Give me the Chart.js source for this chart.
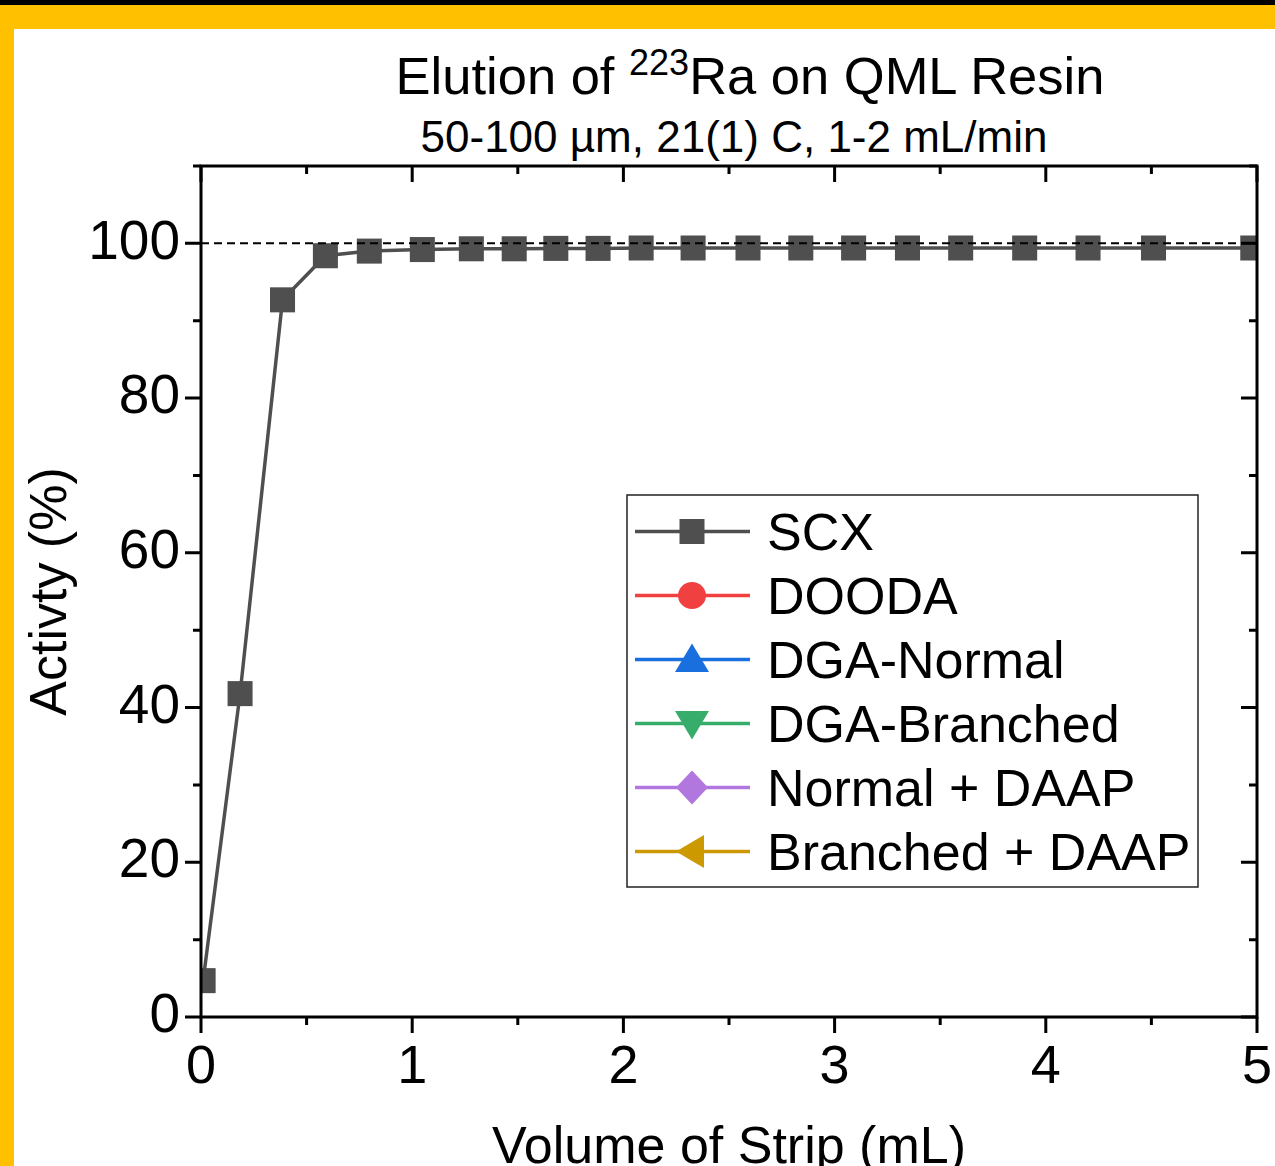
<!DOCTYPE html>
<html>
<head>
<meta charset="utf-8">
<script src="https://cdn.jsdelivr.net/npm/chart.js@4.4.1/dist/chart.umd.min.js"></script>
<style>
  html, body { margin: 0; padding: 0; overflow: hidden; background: #FFC000; width: 1275px; height: 1166px; }
  .topbar { position: absolute; left: 0; top: 0; width: 1275px; height: 5px; background: #000; }
  .sheet { position: absolute; left: 14px; top: 29px; right: 0; bottom: 0; background: #fff; }
  #c { position: absolute; left: 0; top: 0; }
  .ttl { position: absolute; width: 900px; text-align: center; font-family: "Liberation Sans", Arial, sans-serif; color: #000; line-height: 1; white-space: nowrap; }
  .ttl sup { font-size: 36px; position: relative; top: -19px; vertical-align: baseline; }
</style>
</head>
<body>
<div class="topbar"></div>
<div class="sheet"></div>
<div class="ttl" style="left: 300px; top: 50px; font-size: 52.5px;">Elution of <sup>223</sup>Ra on QML Resin</div>
<div class="ttl" style="left: 284px; top: 115px; font-size: 44px;">50-100 &micro;m, 21(1) C, 1-2 mL/min</div>
<canvas id="c" width="1320" height="1220"></canvas>
<script>
// ---- data ----
var scxX = [0.01, 0.185, 0.386, 0.589, 0.797, 1.048, 1.28, 1.483, 1.68, 1.88, 2.084,
            2.33, 2.59, 2.84, 3.09, 3.345, 3.597, 3.9, 4.2, 4.51, 4.98];
var scxY = [4.7, 41.8, 92.7, 98.4, 99.0, 99.2, 99.3, 99.3, 99.35, 99.35, 99.4,
            99.4, 99.4, 99.4, 99.4, 99.4, 99.4, 99.4, 99.4, 99.4, 99.4];
// no points visible for these in the figure
var doodaY = [];
var dgaNormalY = [];
var dgaBranchedY = [];
var normalDaapY = [];
var branchedDaapY = [];

var refX = [0, 5];
var refY = [100, 100];

var seriesNames = ['SCX', 'DOODA', 'DGA-Normal', 'DGA-Branched', 'Normal + DAAP', 'Branched + DAAP'];
var seriesColors = ['#4F4F4F', '#F14040', '#1A6FDF', '#37AD6B', '#B177DE', '#CC9900'];
var seriesMarkers = ['square', 'circle', 'triUp', 'triDown', 'diamond', 'triLeft'];

var xTicks = [0, 1, 2, 3, 4, 5];
var yTicks = [0, 20, 40, 60, 80, 100];

var FONT = '"Liberation Sans", Arial, sans-serif';
Chart.defaults.font.family = FONT;
Chart.defaults.color = '#000';

function pts(xs, ys) {
  return ys.map(function (y, i) { return { x: xs[i], y: y }; });
}

// draw one marker shape (used by the legend)
function drawMarker(ctx, kind, x, y, color) {
  ctx.save();
  ctx.fillStyle = color;
  ctx.beginPath();
  if (kind === 'square') {
    ctx.rect(x - 12.5, y - 12.5, 25, 25);
  } else if (kind === 'circle') {
    ctx.ellipse(x, y, 14, 13.5, 0, 0, Math.PI * 2);
  } else if (kind === 'triUp') {
    ctx.moveTo(x, y - 16); ctx.lineTo(x + 17, y + 12.5); ctx.lineTo(x - 17, y + 12.5);
  } else if (kind === 'triDown') {
    ctx.moveTo(x, y + 16); ctx.lineTo(x + 17, y - 12.5); ctx.lineTo(x - 17, y - 12.5);
  } else if (kind === 'diamond') {
    ctx.moveTo(x, y - 17); ctx.lineTo(x + 16, y); ctx.lineTo(x, y + 17); ctx.lineTo(x - 16, y);
  } else if (kind === 'triLeft') {
    ctx.moveTo(x - 16, y); ctx.lineTo(x + 12, y - 16.5); ctx.lineTo(x + 12, y + 16.5);
  }
  ctx.closePath();
  ctx.fill();
  ctx.restore();
}

// frame + ticks on all four sides
var framePlugin = {
  id: 'frame',
  afterDatasetsDraw: function (chart) {
    var ctx = chart.ctx, a = chart.chartArea;
    var xs = chart.scales.x, ys = chart.scales.y;
    ctx.save();
    ctx.strokeStyle = '#000';
    ctx.lineWidth = 3;
    ctx.lineCap = 'butt';
    ctx.strokeRect(a.left, a.top, a.right - a.left, a.bottom - a.top);
    ctx.beginPath();
    xTicks.forEach(function (v, i) {
      var p = xs.getPixelForValue(v);
      ctx.moveTo(p, a.bottom); ctx.lineTo(p, a.bottom + 16);
      ctx.moveTo(p, a.top); ctx.lineTo(p, a.top + 16);
      if (i < xTicks.length - 1) {
        var m = xs.getPixelForValue((v + xTicks[i + 1]) / 2);
        ctx.moveTo(m, a.bottom); ctx.lineTo(m, a.bottom + 8);
        ctx.moveTo(m, a.top); ctx.lineTo(m, a.top + 8);
      }
    });
    yTicks.forEach(function (v, i) {
      var p = ys.getPixelForValue(v);
      ctx.moveTo(a.left, p); ctx.lineTo(a.left - 16, p);
      ctx.moveTo(a.right, p); ctx.lineTo(a.right - 16, p);
      var m = ys.getPixelForValue(v + 10);
      ctx.moveTo(a.left, m); ctx.lineTo(a.left - 8, m);
      ctx.moveTo(a.right, m); ctx.lineTo(a.right - 8, m);
    });
    ctx.stroke();
    ctx.restore();
  }
};

// legend box inside the plot
var legendPlugin = {
  id: 'boxLegend',
  afterDraw: function (chart) {
    var ctx = chart.ctx;
    var bx = 627, by = 495, bw = 571, bh = 392;
    ctx.save();
    ctx.fillStyle = '#fff';
    ctx.fillRect(bx, by, bw, bh);
    ctx.strokeStyle = '#222';
    ctx.lineWidth = 1.5;
    ctx.strokeRect(bx, by, bw, bh);
    ctx.font = '52px ' + FONT;
    ctx.textBaseline = 'alphabetic';
    ctx.textAlign = 'left';
    seriesNames.forEach(function (name, i) {
      var y = by + 36.5 + i * 64;
      ctx.strokeStyle = seriesColors[i];
      ctx.lineWidth = 3.5;
      ctx.beginPath();
      ctx.moveTo(635, y); ctx.lineTo(750, y);
      ctx.stroke();
      drawMarker(ctx, seriesMarkers[i], 692, y, seriesColors[i]);
      ctx.fillStyle = '#000';
      ctx.fillText(name, 767, y + 18.5);
    });
    ctx.restore();
  }
};

var pointStyles = ['rect', 'circle', 'triangle', 'triangle', 'rectRot', 'triangle'];
var pointRots = [0, 0, 0, 180, 0, -90];
var seriesData = [pts(scxX, scxY), pts([], doodaY), pts([], dgaNormalY), pts([], dgaBranchedY),
                  pts([], normalDaapY), pts([], branchedDaapY)];

var datasets = [{
  label: 'ref',
  data: pts(refX, refY),
  borderColor: '#000',
  borderWidth: 2,
  borderDash: [8, 5],
  pointRadius: 0,
  order: 0
}];
seriesNames.forEach(function (name, i) {
  datasets.push({
    label: name,
    data: seriesData[i],
    borderColor: seriesColors[i],
    backgroundColor: seriesColors[i],
    borderWidth: 3.5,
    pointStyle: pointStyles[i],
    rotation: pointRots[i],
    pointRadius: 17.7,
    pointBorderWidth: 0,
    tension: 0,
    order: 1 + i
  });
});

new Chart(document.getElementById('c'), {
  type: 'line',
  data: { datasets: datasets },
  options: {
    responsive: false,
    animation: false,
    layout: { padding: { left: 0, top: 166, right: 63, bottom: 0 } },
    plugins: { legend: { display: false }, tooltip: { enabled: false } },
    scales: {
      x: {
        type: 'linear',
        min: 0, max: 5,
        grid: { display: false, drawTicks: false },
        border: { display: false },
        afterBuildTicks: function (s) { s.ticks = xTicks.map(function (v) { return { value: v }; }); },
        afterFit: function (s) { s.height = 203; },
        ticks: { font: { size: 54 }, padding: 19, maxRotation: 0 },
        title: { display: true, text: 'Volume of Strip (mL)', font: { size: 52 }, padding: { bottom: 40 } }
      },
      y: {
        min: 0, max: 110,
        grid: { display: false, drawTicks: false },
        border: { display: false },
        afterBuildTicks: function (s) { s.ticks = yTicks.map(function (v) { return { value: v }; }); },
        afterFit: function (s) { s.width = 201; },
        ticks: { font: { size: 55 }, padding: 21 },
        title: { display: true, text: 'Activty (%)', font: { size: 52 }, padding: { top: 20 } }
      }
    }
  },
  plugins: [framePlugin, legendPlugin]
});
</script>
</body>
</html>
